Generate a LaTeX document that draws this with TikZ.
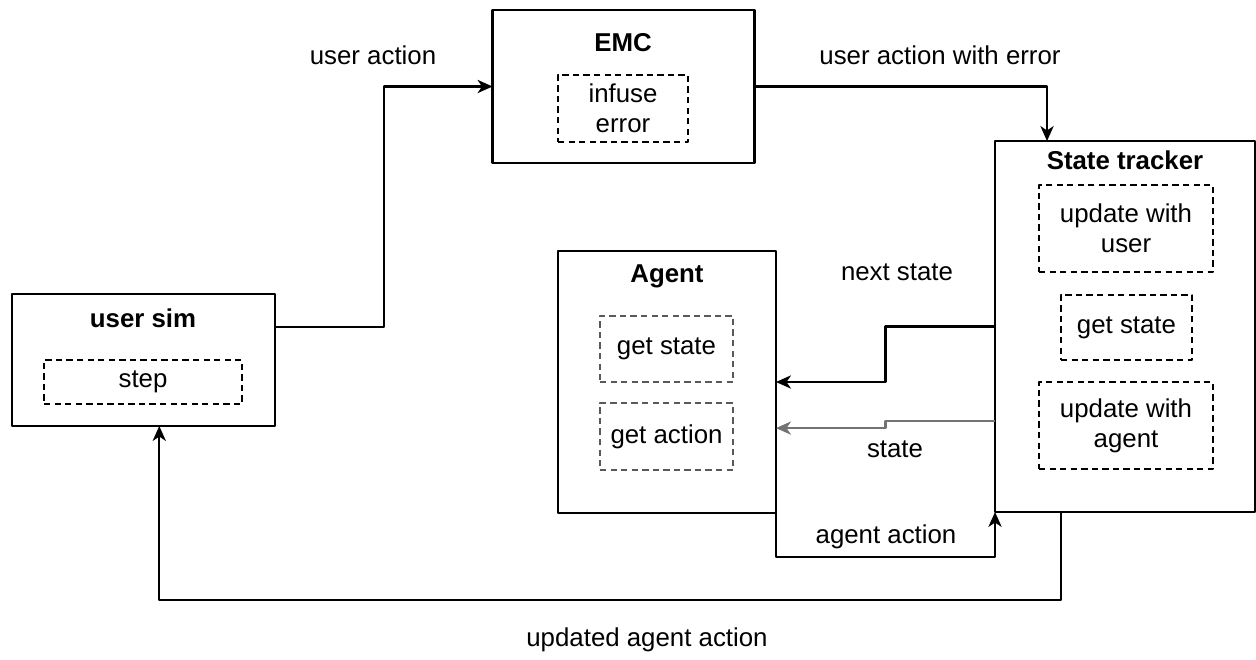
\documentclass[tikz,border=0pt]{standalone}
\usepackage{fontspec}
\setmainfont{Liberation Sans}
\usetikzlibrary{arrows.meta,calc}
\begin{document}
\begin{tikzpicture}[x=0.02cm, y=-0.02cm, >={Stealth[length=8.5pt,width=7.5pt,inset=2.5pt]},
	font=\fontsize{14.7}{17}\selectfont, line join=round,
	sz/.style 2 args={minimum width=#1cm, minimum height=#2cm},
	blockbox/.style={draw, line width=1.2pt, inner sep=0pt, outer sep=0pt},
	taskbox/.style={draw, line width=1pt, dash pattern=on 3.6pt off 2.4pt, inner sep=0pt, align=center},
	flow/.style={->, line width=1.3pt},
	title/.style={font=\fontsize{14.7}{17}\selectfont\bfseries}]
				\useasboundingbox (0,0) rectangle (1256,659);
				% blocks
				\node[blockbox, sz={5.26}{2.64}] (usersim) at (143.5,360) {};
				\node[blockbox, sz={5.24}{3.06}] (emc) at (623.5,86.5) {};
				\node[blockbox, sz={5.2}{7.42}] (tracker) at (1125,326.5) {};
				\node[blockbox, sz={4.36}{5.24}] (agent) at (667,382) {};
				\path
				(143,318) node[title]{user sim}		(623,43) node[title]{EMC}
				(1125,160) node[title]{State tracker}	(667,276) node[title]{Agent}
				;
				% tasks
				\node[taskbox, sz={3.96}{0.88}] (step) at (143,382) {step};
				\node[taskbox, sz={2.6}{1.34}] (infuse) at (623,108.5) {infuse\\error};
				\node[taskbox, sz={3.48}{1.74}] (upuser) at (1126,228.5) {update with\\user};
				\node[taskbox, sz={2.62}{1.3}] (trstate) at (1126.5,327.5) {get state};
				\node[taskbox, sz={3.48}{1.74}] (upagent) at (1126,425.5) {update with\\agent};
				\node[taskbox, draw=black!65, sz={2.66}{1.32}] (agstate) at (666.5,349) {get state};
				\node[taskbox, draw=black!65, sz={2.66}{1.34}] (agaction) at (666.5,436.5) {get action};
				% connectors
				\coordinate (simout) at ($(usersim.north east)!.25!(usersim.south east)$);
				\coordinate (trin) at ($(tracker.north west)!.2!(tracker.north east)$);
				\coordinate (trout) at ($(tracker.north west)!.755!(tracker.south west)$);
				\coordinate (agin) at ($(agent.north east)!.676!(agent.south east)$);
				\coordinate (trdown) at ($(tracker.south west)!.254!(tracker.south east)$);
				\coordinate (simin) at ($(usersim.south west)!.56!(usersim.south east)$);
				\draw[flow] (simout) -| ($(simout)!.5!(emc.west)$) |- (emc.west);
				\draw[flow] (emc.east) -| (trin);
				\draw[flow] (tracker.west) -| ($(tracker.west)!.5!(agent.east)$) |- (agent.east);
				\draw[flow, black!55] (trout) -| ($(trout)!.5!(agin)$) |- (agin);
				\draw[flow] (agent.south east) -- ++(0,44) -| (tracker.south west);
				\draw[flow] (trdown) -- ++(0,88) -| (simin);
				% labels
				\path
				(373,55) node{user action}		(940,55) node{user action with error}
				(897,272) node{next state}		(895,449) node{state}
				(886,537) node{agent action}	(647,640) node{updated agent action}
				;
			\end{tikzpicture}
\end{document}
